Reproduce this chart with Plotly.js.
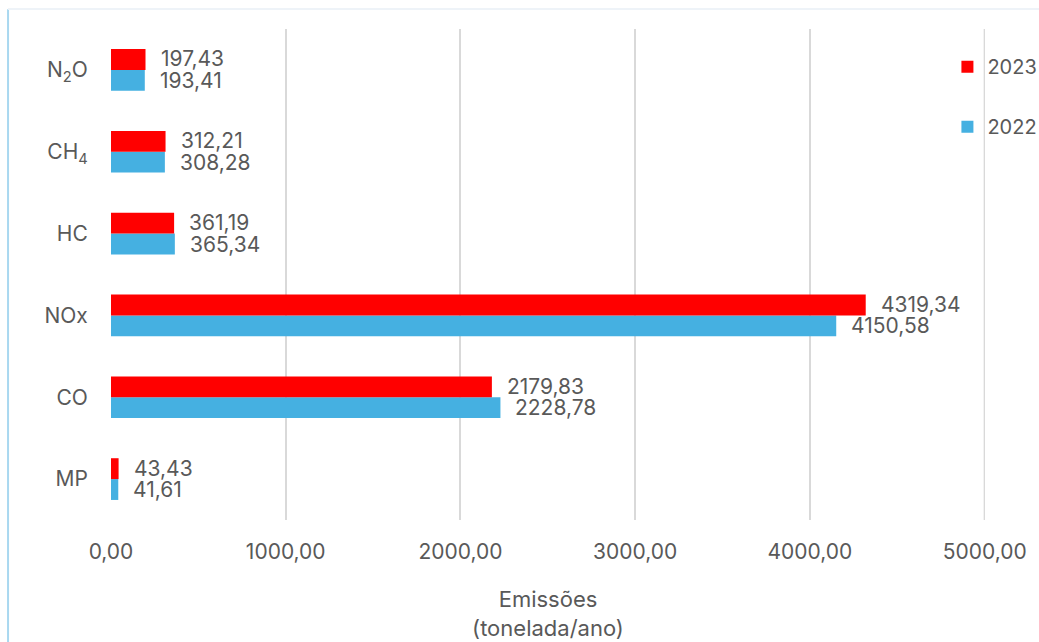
<!DOCTYPE html>
<html><head><meta charset="utf-8">
<script src="https://cdn.plot.ly/plotly-3.0.1.min.js"></script>
<style>html,body{margin:0;padding:0;background:#fff;}#chart{width:1039px;height:642px;}</style>
</head><body><div id="chart"></div>
<script>
const categories = ["MP", "CO", "NOx", "HC", "CH<sub>4</sub>", "N<sub>2</sub>O"];
const values2022 = [41.61, 2228.78, 4150.58, 365.34, 308.28, 193.41];
const values2023 = [43.43, 2179.83, 4319.34, 361.19, 312.21, 197.43];
const tickVals = [0, 1000, 2000, 3000, 4000, 5000];
const tickText = ["0,00", "1000,00", "2000,00", "3000,00", "4000,00", "5000,00"];
const fmt = v => v.toFixed(2).replace(".", ",");

const font = {family: "Inter, 'Open Sans', sans-serif", size: 21, color: "#595959"};

const traces = [
  {type: "bar", orientation: "h", name: "2022", legendgroup: "g2022", legendrank: 2, y: categories, x: values2022,
   marker: {color: "#45b0e1"}, hoverinfo: "x"},
  {type: "bar", orientation: "h", name: "2023", legendgroup: "g2023", legendrank: 1, y: categories, x: values2023,
   marker: {color: "#ff0000"}, hoverinfo: "x"}
];

const annotations = [];
categories.forEach((c, i) => {
  annotations.push({x: values2022[i], y: i, xref: "x", yref: "y", text: fmt(values2022[i]),
    showarrow: false, xanchor: "left", yanchor: "middle", xshift: 14, yshift: -10.5, borderpad: 0, font: font});
  annotations.push({x: values2023[i], y: i, xref: "x", yref: "y", text: fmt(values2023[i]),
    showarrow: false, xanchor: "left", yanchor: "middle", xshift: 14, yshift: 11, borderpad: 0, font: font});
});

const layout = {
  width: 1039, height: 642,
  margin: {l: 111, r: 54, t: 29, b: 122, autoexpand: false},
  paper_bgcolor: "#fff", plot_bgcolor: "#fff",
  font: font,
  barmode: "group", bargap: 0.49, bargroupgap: 0,
  showlegend: true,
  legend: {x: 0.957, xanchor: "left", y: 0.963, yanchor: "top", traceorder: "grouped",
    tracegroupgap: 31, font: {family: font.family, size: 20, color: "#595959"},
    bgcolor: "rgba(0,0,0,0)", itemwidth: 30},
  xaxis: {range: [0, 5002], tickvals: tickVals, ticktext: tickText, showgrid: true,
    gridcolor: "#d9d9d9", gridwidth: 2, zeroline: false, showline: false,
    ticks: "outside", ticklen: 13, tickcolor: "rgba(0,0,0,0)", tickfont: font,
    title: {text: "Emissões<br>(tonelada/ano)", font: {family: font.family, size: 22, color: "#595959"}, standoff: 28}},
  yaxis: {type: "category", categoryorder: "array", categoryarray: categories,
    range: [-0.5, 5.5], showgrid: false, zeroline: false, showline: false,
    ticks: "outside", ticklen: 18, tickcolor: "rgba(0,0,0,0)", tickfont: font},
  annotations: annotations,
  shapes: [
    {type: "line", xref: "x", yref: "paper", x0: tickVals[5], x1: tickVals[5], y0: 0, y1: 1,
     layer: "below", line: {color: "#d9d9d9", width: 2}},
    {type: "line", xref: "paper", yref: "paper", x0: -0.1178, x1: -0.1178, y0: 1.04, y1: -0.26,
     line: {color: "#a9d8f0", width: 2}},
    {type: "line", xref: "paper", yref: "paper", x0: -0.1178, x1: 1.07, y0: 1.0407, y1: 1.0407,
     line: {color: "#eef3f8", width: 2}}
  ]
};

Plotly.newPlot("chart", traces, layout, {displayModeBar: false, responsive: false});
</script></body></html>
